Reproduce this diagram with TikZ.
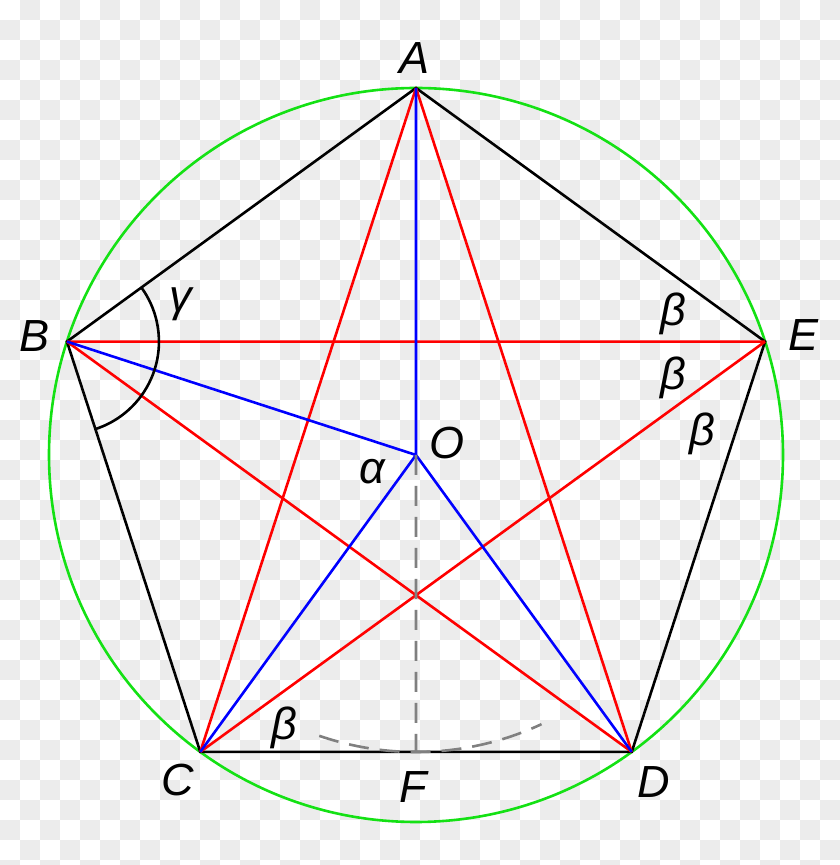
\documentclass[tikz,border=0pt]{standalone}
\usepackage{fontspec}
\setmainfont{Liberation Sans}
\usetikzlibrary{calc}

\definecolor{circgreen}{RGB}{20,225,20}
\definecolor{chk}{RGB}{236,236,236}

\begin{document}
\begin{tikzpicture}[x=1pt,y=1pt,line width=2.6pt,
		lbl/.style={inner sep=0pt,font=\fontsize{45}{50}\selectfont\itshape},
		aux/.style={gray,line width=2.6pt,dash pattern=on 20pt off 11pt}]
				\useasboundingbox (0,0) rectangle (840,865);
				% checkerboard behind
				\begin{scope}
				\clip (0,0) rectangle (840,865);
				\fill[white] (0,0) rectangle (840,865);
				\foreach \i in {0,...,41}
					\foreach \j in {0,...,43}{
						\pgfmathparse{int(mod(\i+\j,2))}
						\ifnum\pgfmathresult=1
							\fill[chk] (20*\i,865-20*\j) rectangle ++(20,-20);
						\fi}
				\end{scope}
				\coordinate (O) at (416,410);
				\foreach \p/\ang in {A/90,B/162,C/234,D/306,E/18}
					\coordinate (\p) at ($(O)+(\ang:367)$);
				\coordinate (F) at ($(C)!0.5!(D)$);
				\draw[circgreen] (O) circle (367);
				\draw (A) -- (B) -- (C) -- (D) -- (E) -- cycle;
				\draw[red] (A) -- (C) (A) -- (D) (B) -- (E) (B) -- (D) (E) -- (C);
				\draw[blue] (A) -- (O) -- (B) (C) -- (O) -- (D);
				\draw[aux] (O) -- (F);
				\draw[aux] (O) ++(-109:297) arc (-109:-65:297);
				\draw (B) ++(36:92) arc (36:-72:92);
				
				\foreach \n/\x/\y/\t in
					{lA/415/807/A,lB/35/529/B,lE/803/530/E,lC/178/85/C,lF/413/78/F,lD/654/83/D,lO/447/422/O,
					la/372/393/α,lg/181/561/γ,lb1/673/551/β,lb2/673/487/β,lb3/702/431/β,lb4/284/137/β}
					\node[lbl] (\n) at (\x,\y) {\t};
	\end{tikzpicture}
\end{document}
